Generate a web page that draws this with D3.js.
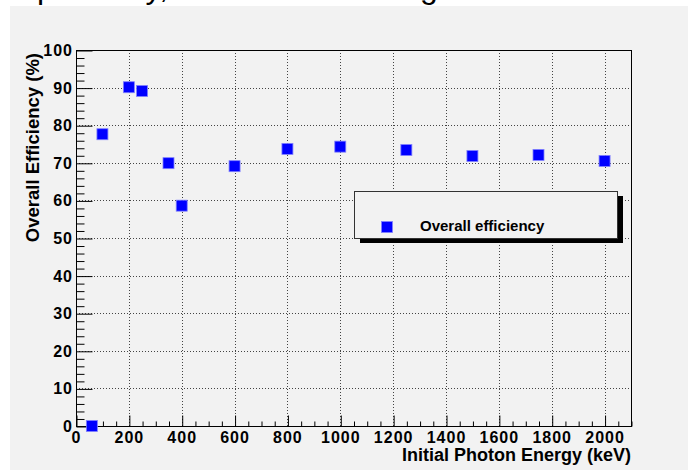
<!DOCTYPE html>
<html>
<head>
<meta charset="utf-8">
<script src="https://cdn.jsdelivr.net/npm/d3@7"></script>
<style>
  html, body { margin: 0; padding: 0; background: #ffffff; }
  svg { display: block; }
  text { font-family: "Liberation Sans", Arial, Helvetica, sans-serif; font-weight: bold; }
  text.para { font-weight: normal; }
</style>
</head>
<body>
<svg id="chart" width="688" height="470"></svg>
<script>
// Photon energies (keV) and measured overall efficiency (%)
const energies = [60, 100, 200, 250, 350, 400, 600, 800, 1000, 1250, 1500, 1750, 2000];
const efficiency = [0, 77.6, 90.1, 89.1, 69.9, 58.6, 69.1, 73.7, 74.3, 73.4, 71.8, 72.1, 70.5];
const xTickValues = [0, 200, 400, 600, 800, 1000, 1200, 1400, 1600, 1800, 2000];
const yTickValues = [0, 10, 20, 30, 40, 50, 60, 70, 80, 90, 100];
const seriesName = "Overall efficiency";
const xTitle = "Initial Photon Energy (keV)";
const yTitle = "Overall Efficiency (%)";

const svg = d3.select("#chart");
const W = 688, H = 470;
const frame = { left: 76, right: 631, top: 50, bottom: 426 };

// Page background
svg.append("rect").attr("x", 0).attr("y", 0).attr("width", W).attr("height", H).attr("fill", "#ffffff");
// Tail of the paragraph line above the figure
const para = svg.append("g").attr("font-size", 32).attr("fill", "#000");
para.append("text").attr("class", "para").attr("x", 21).attr("y", -2).text("spectively, the net");
para.append("text").attr("class", "para").attr("x", 420).attr("y", -2).text("given");
// Figure canvas
svg.append("rect").attr("x", 10).attr("y", 6).attr("width", W - 10).attr("height", H - 6).attr("fill", "#f2f2f2");

const x = d3.scaleLinear().domain([0, 2100]).range([frame.left, frame.right]);
const y = d3.scaleLinear().domain([0, 100]).range([frame.bottom, frame.top]);

// Dotted grid at major ticks
const grid = svg.append("g").attr("stroke", "#444").attr("stroke-width", 1).attr("stroke-dasharray", "1,2");
grid.selectAll("line.gx").data(xTickValues.filter(v => v > 0)).join("line")
  .attr("x1", d => Math.round(x(d)) + 0.5).attr("x2", d => Math.round(x(d)) + 0.5)
  .attr("y1", frame.top).attr("y2", frame.bottom);
grid.selectAll("line.gy").data(yTickValues.filter(v => v > 0 && v < 100)).join("line")
  .attr("y1", d => Math.round(y(d)) + 0.5).attr("y2", d => Math.round(y(d)) + 0.5)
  .attr("x1", frame.left).attr("x2", frame.right);

// Frame
svg.append("rect").attr("x", frame.left + 0.5).attr("y", frame.top + 0.5)
  .attr("width", frame.right - frame.left).attr("height", frame.bottom - frame.top)
  .attr("fill", "none").attr("stroke", "#000").attr("stroke-width", 1);

// Axis ticks drawn inward (major + minor)
const xMinor = d3.range(0, 2101, 50).filter(v => v % 200 !== 0);
const yMinor = d3.range(0, 101, 2).filter(v => v % 10 !== 0);

const xAxisMajor = d3.axisTop(x).tickValues(xTickValues).tickSize(11).tickFormat("");
const xAxisMinor = d3.axisTop(x).tickValues(xMinor).tickSize(5).tickFormat("");
const gxMaj = svg.append("g").attr("transform", `translate(0.5,${frame.bottom + 0.5})`).call(xAxisMajor);
const gxMin = svg.append("g").attr("transform", `translate(0.5,${frame.bottom + 0.5})`).call(xAxisMinor);
[gxMaj, gxMin].forEach(g => { g.select(".domain").remove(); g.selectAll("line").attr("stroke", "#000"); });

const yAxisMajor = d3.axisRight(y).tickValues(yTickValues).tickSize(16).tickFormat("");
const yAxisMinor = d3.axisRight(y).tickValues(yMinor).tickSize(8).tickFormat("");
const gyMaj = svg.append("g").attr("transform", `translate(${frame.left + 0.5},0.5)`).call(yAxisMajor);
const gyMin = svg.append("g").attr("transform", `translate(${frame.left + 0.5},0.5)`).call(yAxisMinor);
[gyMaj, gyMin].forEach(g => { g.select(".domain").remove(); g.selectAll("line").attr("stroke", "#000"); });

// Tick labels
svg.append("g").selectAll("text").data(xTickValues).join("text")
  .attr("x", d => x(d) + 0.5).attr("y", 443)
  .attr("text-anchor", "middle").attr("font-size", 16).attr("letter-spacing", 1).attr("fill", "#000")
  .text(d => d);
svg.append("g").selectAll("text").data(yTickValues).join("text")
  .attr("x", 73).attr("y", d => y(d) + 6)
  .attr("text-anchor", "end").attr("font-size", 16).attr("letter-spacing", 1).attr("fill", "#000")
  .text(d => d);

// Axis titles
svg.append("text").attr("x", frame.right).attr("y", 461)
  .attr("text-anchor", "end").attr("font-size", 18).attr("fill", "#000").text(xTitle);
svg.append("text").attr("transform", `translate(38.5,${frame.top + 3}) rotate(-90)`)
  .attr("text-anchor", "end").attr("font-size", 18.5).attr("fill", "#000").text(yTitle);

// Data markers
const data = energies.map((e, i) => ({ e, v: efficiency[i] }));
const S = 11;
svg.append("g").selectAll("rect").data(data).join("rect")
  .attr("x", d => x(d.e) - S / 2).attr("y", d => y(d.v) - S / 2)
  .attr("width", S).attr("height", S)
  .attr("fill", "#0000ff").attr("stroke", "#8080ff").attr("stroke-width", 0.8);

// Legend with drop shadow
const lg = svg.append("g");
lg.append("rect").attr("x", 360).attr("y", 196).attr("width", 263).attr("height", 47).attr("fill", "#000");
lg.append("rect").attr("x", 354.5).attr("y", 191.5).attr("width", 263).attr("height", 47)
  .attr("fill", "#f2f2f2").attr("stroke", "#333").attr("stroke-width", 1);
lg.append("rect").attr("x", 387 - S / 2).attr("y", 227 - S / 2).attr("width", S).attr("height", S)
  .attr("fill", "#0000ff").attr("stroke", "#8080ff").attr("stroke-width", 0.8);
lg.append("text").attr("x", 420).attr("y", 231).attr("font-size", 15).attr("fill", "#000").text(seriesName);
</script>
</body>
</html>
